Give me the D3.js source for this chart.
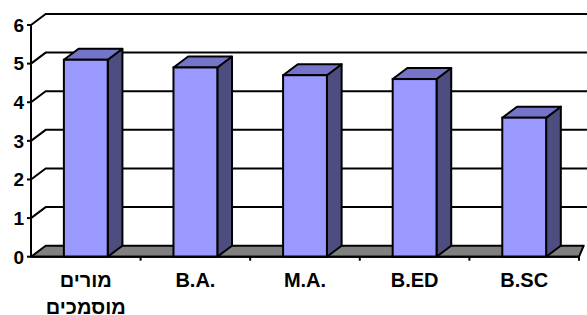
<!DOCTYPE html>
<html>
<head>
<meta charset="utf-8">
<script src="https://cdn.jsdelivr.net/npm/d3@7"></script>
<style>
 body { margin: 0; background: #fff; }
 text { font-family: 'Liberation Sans', Arial, sans-serif; font-weight: bold; fill: #000; }
</style>
</head>
<body>
<script>

// data
var categories = ['מורים מוסמכים', 'B.A.', 'M.A.', 'B.ED', 'B.SC']
var values = [5.1, 4.9, 4.7, 4.6, 3.6]
var yTicks = [0, 1, 2, 3, 4, 5, 6]

var width = 587, height = 315

// front plane of the 3d box
var plotLeft = 31, plotRight = 579, plotBottom = 256.7, plotTop = 25
// depth offset of the back wall
var dx = 14.7, dy = -11

var svg = d3.select('body').append('svg')
 .attr('width', width).attr('height', height)

var x = d3.scaleBand().domain(d3.range(categories.length)).range([plotLeft, plotRight]).paddingInner(0).paddingOuter(0)
var y = d3.scaleLinear().domain([0, 6]).range([plotBottom, plotTop])

var barW = x.bandwidth() / 2.5

function pts(arr) { return arr.map(function(p) { return p.join(',') }).join(' ') }

//floor
svg.append('polygon')
 .attr('points', pts([[plotLeft, y(0)], [plotRight, y(0)], [plotRight + dx - 10, y(0) + dy], [plotLeft + dx, y(0) + dy]]))
 .attr('fill', '#808080').attr('stroke', '#000').attr('stroke-width', 2).attr('stroke-linejoin', 'round')

//gridlines : diagonal on the side wall, then across the back wall
var grid = svg.append('g').attr('class', 'grid')
grid.selectAll('path').data(yTicks.slice(1)).enter().append('path')
 .attr('d', function(d) {
   return 'M' + plotLeft + ',' + y(d) + 'L' + (plotLeft + dx) + ',' + (y(d) + dy) + 'L' + (plotRight + dx) + ',' + (y(d) + dy)
 })
 .attr('fill', 'none').attr('stroke', '#000').attr('stroke-width', 2)

//bars
var bar = svg.selectAll('.bar').data(values).enter().append('g').attr('class', 'bar')

bar.append('polygon') // side
 .attr('points', function(d, i) {
   var x1 = x(i) + x.bandwidth() / 2 + barW / 2
   return pts([[x1, y(d)], [x1 + dx, y(d) + dy], [x1 + dx, y(0) + dy], [x1, y(0)]])
 })
 .attr('fill', '#4d4d80').attr('stroke', '#000').attr('stroke-width', 2).attr('stroke-linejoin', 'round')

bar.append('polygon') // top
 .attr('points', function(d, i) {
   var x0 = x(i) + x.bandwidth() / 2 - barW / 2, x1 = x0 + barW
   return pts([[x0, y(d)], [x1, y(d)], [x1 + dx, y(d) + dy], [x0 + dx, y(d) + dy]])
 })
 .attr('fill', '#7474c8').attr('stroke', '#000').attr('stroke-width', 2).attr('stroke-linejoin', 'round')

bar.append('rect') // front
 .attr('x', function(d, i) { return x(i) + x.bandwidth() / 2 - barW / 2 })
 .attr('y', function(d) { return y(d) })
 .attr('width', barW)
 .attr('height', function(d) { return y(0) - y(d) })
 .attr('fill', '#9999ff').attr('stroke', '#000').attr('stroke-width', 2)

//axes (ticks and labels drawn by hand so the bold font sticks)
var yAxis = svg.append('g').attr('class', 'yaxis')
yAxis.append('line').attr('x1', plotLeft).attr('x2', plotLeft).attr('y1', y(0)).attr('y2', y(6))
 .attr('stroke', '#000').attr('stroke-width', 2)
yAxis.selectAll('.tk').data(yTicks).enter().append('line')
 .attr('x1', plotLeft - 4).attr('x2', plotLeft)
 .attr('y1', function(d) { return y(d) }).attr('y2', function(d) { return y(d) })
 .attr('stroke', '#000').attr('stroke-width', 2)
yAxis.selectAll('text').data(yTicks).enter().append('text')
 .attr('x', plotLeft - 7)
 .attr('y', function(d) { return y(d) })
 .attr('dy', '0.36em')
 .attr('text-anchor', 'end')
 .style('font', 'bold 19px "Liberation Sans", Arial, sans-serif')
 .text(function(d) { return d })

var xAxis = svg.append('g').attr('transform', 'translate(0,' + y(0) + ')')
xAxis.append('line').attr('x1', plotLeft).attr('x2', plotRight).attr('stroke', '#000').attr('stroke-width', 2)
xAxis.selectAll('.tk').data(d3.range(1, categories.length + 1)).enter().append('line')
 .attr('x1', function(d) { return plotLeft + d * x.bandwidth() })
 .attr('x2', function(d) { return plotLeft + d * x.bandwidth() })
 .attr('y1', 0).attr('y2', 4).attr('stroke', '#000').attr('stroke-width', 2)

//category labels, the hebrew one wraps on two lines
var lab = xAxis.selectAll('.lab').data(categories).enter().append('text')
 .attr('text-anchor', 'middle')
 .style('font', 'bold 20px "Liberation Sans", Arial, sans-serif')
 .attr('transform', function(d, i) { return 'translate(' + (x(i) + x.bandwidth() / 2) + ',0)' })
lab.selectAll('tspan').data(function(d) { return d.split(' ') }).enter().append('tspan')
 .attr('x', 0)
 .attr('y', function(d, j) { return 30 + j * 27 })
 .text(function(d) { return d })

</script>
</body>
</html>
